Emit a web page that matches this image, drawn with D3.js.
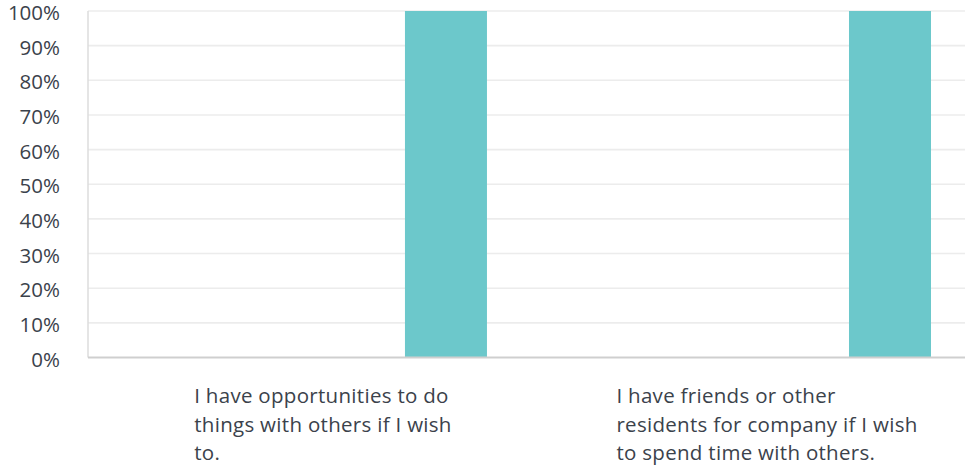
<!DOCTYPE html>
<html><head><meta charset="utf-8">
<script src="https://cdn.jsdelivr.net/npm/d3@7"></script>
<style>body{margin:0;background:#fff}svg{display:block}</style>
</head><body><svg id="c" width="965" height="468"></svg>
<script>
const categories = [
  ["I have opportunities to do", "things with others if I wish", "to."],
  ["I have friends or other", "residents for company if I wish", "to spend time with others."]
];
const categoryKeys = ["opportunities", "friends"];
const series = ["Never", "Sometimes", "Often", "Always"];
const values = [
  [0, 0, 0, 100],
  [0, 0, 0, 100]
];
const yTicks = [0,10,20,30,40,50,60,70,80,90,100];

(function(){
const svg = d3.select("#c");
const mLeft = 88, mRight = 965, mTop = 11, mBottom = 357.5;
const font = "Open Sans, sans-serif";
const textColor = "#3b424b";

const y = d3.scaleLinear().domain([0,100]).range([mBottom, mTop]);
const x0 = d3.scaleBand().domain(categoryKeys).range([mLeft, mRight])
  .paddingInner(0.2613).paddingOuter(0.1182).align(0.676);
const x1 = d3.scaleBand().domain(series).range([0, x0.bandwidth()]);

svg.append("g").selectAll("line").data(yTicks.filter(d=>d>0)).join("line")
  .attr("x1", mLeft).attr("x2", mRight)
  .attr("y1", d=>y(d)).attr("y2", d=>y(d))
  .attr("stroke", "#ececec").attr("stroke-width", 1.6);

svg.append("line").attr("x1", mLeft).attr("x2", mLeft).attr("y1", mTop).attr("y2", mBottom)
  .attr("stroke", "#dcdcdc").attr("stroke-width", 1.5);

svg.append("g").selectAll("text").data(yTicks).join("text")
  .attr("x", 60).attr("y", d=>y(d) + 2).attr("dy", "0.35em")
  .attr("text-anchor", "end").attr("font-family", font).attr("font-size", 20.5)
  .attr("fill", textColor).text(d=>d+"%");

const groups = svg.append("g").selectAll("g").data(categoryKeys).join("g")
  .attr("transform", d=>`translate(${x0(d)},0)`);
groups.selectAll("rect").data((d,i)=>series.map((s,j)=>({s, v: values[i][j]}))).join("rect")
  .attr("x", d=>x1(d.s)).attr("width", x1.bandwidth())
  .attr("y", d=>y(d.v)).attr("height", d=>mBottom - y(d.v))
  .attr("fill", "#6cc8cb");

svg.append("line").attr("x1", mLeft).attr("x2", mRight).attr("y1", mBottom).attr("y2", mBottom)
  .attr("stroke", "#cfcfcf").attr("stroke-width", 2);

categoryKeys.forEach((k,i)=>{
  const g = svg.append("g");
  const t = g.append("text").attr("font-family", font).attr("font-size", 20.5)
    .attr("fill", textColor).attr("letter-spacing", 0.3);
  categories[i].forEach((line, j)=>{
    t.append("tspan").attr("x", 0).attr("y", 403 + j*28.5).text(line);
  });
  const w = t.node().getBBox().width;
  g.attr("transform", `translate(${x0(k) + x0.bandwidth()/2 - w/2},0)`);
});
})();
</script></body></html>
